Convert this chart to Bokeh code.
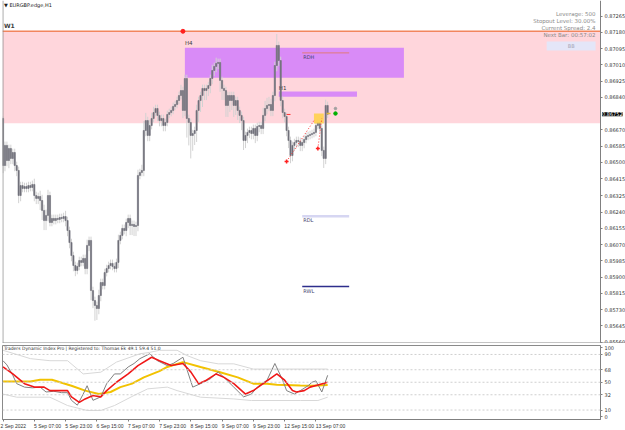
from bokeh.plotting import figure
from bokeh.layouts import column
from bokeh.models import (Range1d, FixedTicker, NumeralTickFormatter, BoxAnnotation,
                          Span, Label, ColumnDataSource, LinearAxis)
from bokeh.embed import file_html
from bokeh.resources import INLINE

# ---------------- data ----------------
open_first = 0.86730
closes = [
    0.86484, 0.86589, 0.86510, 0.86573, 0.86521, 0.86552, 0.86484, 0.86458, 0.86327, 0.86379,
    0.86364, 0.86374, 0.86364, 0.86379, 0.86369, 0.86385, 0.86327, 0.86312, 0.86322, 0.86301,
    0.86249, 0.86196, 0.86223, 0.86327, 0.86186, 0.86207, 0.86196, 0.86207, 0.86202, 0.86212,
    0.86207, 0.86217, 0.86196, 0.86144, 0.86081, 0.86013, 0.85961, 0.85935, 0.85956, 0.85987,
    0.85977, 0.85998, 0.85945, 0.86066, 0.86092, 0.85830, 0.85778, 0.85752, 0.85736, 0.85804,
    0.85872, 0.85856, 0.85924, 0.85945, 0.85961, 0.85972, 0.85956, 0.85945, 0.85977, 0.86092,
    0.86118, 0.86155, 0.86144, 0.86186, 0.86207, 0.86170, 0.86176, 0.86165, 0.86170, 0.86432,
    0.86447, 0.86458, 0.86667, 0.86719, 0.86641, 0.86693, 0.86730, 0.86761, 0.86782, 0.86746,
    0.86719, 0.86730, 0.86693, 0.86709, 0.86751, 0.86761, 0.86772, 0.86793, 0.86803, 0.86824,
    0.86850, 0.86876, 0.86772, 0.86939, 0.86730, 0.86709, 0.86641, 0.86651, 0.86667, 0.86772,
    0.86824, 0.86850, 0.86887, 0.86876, 0.86887, 0.86902, 0.86939, 0.86981, 0.87002, 0.87018,
    0.87023, 0.86929, 0.86887, 0.86876, 0.86798, 0.86850, 0.86824, 0.86850, 0.86798, 0.86824,
    0.86772, 0.86746, 0.86719, 0.86615, 0.86641, 0.86657, 0.86667, 0.86651, 0.86678, 0.86641,
    0.86688, 0.86693, 0.86678, 0.86746, 0.86782, 0.86798, 0.86803, 0.86772, 0.86850, 0.87007,
    0.87112, 0.87033, 0.86824, 0.86761, 0.86740, 0.86667, 0.86615, 0.86536, 0.86589, 0.86604,
    0.86615, 0.86610, 0.86589, 0.86604, 0.86620, 0.86636, 0.86641, 0.86646, 0.86651, 0.86657,
    0.86693, 0.86709, 0.86678, 0.86563, 0.86521, 0.86798, 0.86752,
]
hi_pips = [
    1, 2, 2, 2, 2, 2, 2, 2, 2, 2,
    2, 2, 2, 2, 2, 2, 3, 2, 2, 3,
    3, 3, 3, 3, 2, 2, 2, 2, 2, 2,
    2, 2, 3, 2, 2, 2, 2, 2, 2, 2,
    2, 2, 2, 3, 2, 2, 2, 2, 2, 3,
    2, 2, 2, 2, 2, 2, 2, 2, 2, 3,
    2, 2, 2, 2, 2, 2, 2, 2, 2, 3,
    2, 3, 5, 4, 2, 3, 3, 3, 2, 2,
    2, 2, 2, 2, 2, 2, 2, 2, 2, 2,
    2, 3, 2, 2, 2, 2, 2, 2, 2, 3,
    2, 2, 2, 2, 2, 2, 2, 3, 2, 3,
    2, 2, 2, 2, 2, 2, 2, 2, 2, 2,
    2, 2, 2, 2, 2, 2, 2, 2, 2, 2,
    2, 2, 2, 4, 4, 4, 4, 3, 2, 2,
    6, 2, 2, 2, 2, 2, 2, 2, 2, 2,
    2, 2, 2, 2, 2, 2, 2, 2, 2, 2,
    2, 2, 2, 2, 2, 3, 2,
]
lo_pips = [
    4, 3, 3, 4, 3, 3, 3, 3, 4, 3,
    2, 2, 2, 2, 2, 2, 3, 3, 3, 5,
    5, 5, 5, 3, 2, 2, 2, 2, 2, 2,
    2, 2, 3, 3, 3, 3, 3, 3, 2, 2,
    2, 2, 3, 3, 3, 5, 4, 8, 6, 3,
    3, 2, 2, 2, 2, 2, 2, 2, 2, 3,
    2, 2, 2, 3, 3, 5, 5, 5, 5, 3,
    2, 2, 3, 3, 3, 3, 2, 2, 2, 3,
    3, 3, 3, 3, 2, 2, 2, 2, 2, 2,
    2, 2, 4, 3, 10, 12, 12, 8, 6, 6,
    6, 6, 6, 5, 5, 4, 4, 3, 3, 3,
    3, 6, 6, 5, 6, 6, 6, 5, 6, 5,
    5, 4, 5, 5, 4, 4, 3, 3, 3, 4,
    3, 3, 3, 3, 3, 3, 3, 3, 3, 3,
    3, 3, 3, 3, 3, 3, 4, 4, 3, 3,
    3, 3, 3, 3, 3, 2, 2, 2, 2, 2,
    2, 2, 2, 3, 5, 3, 2,
]

price_ticks = [0.87265, 0.87180, 0.87095, 0.87010, 0.86925, 0.86840, 0.86670, 0.86585,
               0.86500, 0.86415, 0.86325, 0.86240, 0.86155, 0.86070, 0.85985, 0.85900,
               0.85815, 0.85730, 0.85645, 0.85560]
time_tick_bars = [0, 16, 32, 48, 64, 80, 96, 112, 128, 144, 160]
time_labels = ["2 Sep 2022", "5 Sep 07:00", "5 Sep 23:00", "6 Sep 15:00", "7 Sep 07:00",
               "7 Sep 23:00", "8 Sep 15:00", "9 Sep 07:00", "9 Sep 23:00", "12 Sep 15:00",
               "13 Sep 07:00"]
current_price = 0.86752

# zones / levels
w1_zone = [0.86705, 0.87186]          # bottom, top
w1_mark_bar = 92
h4_bars = [93, 205]
h4_zone = [0.86943, 0.87100]
h1_bars = [141, 181]
h1_zone = [0.86843, 0.86871]
level_bars = [153, 177]
rdh_level = 0.87073
rdl_level = 0.86219
rwl_level = 0.85851
trend1_bars = [145, 159]
trend1_prices = [0.86505, 0.86719]
trend2_bars = [161, 163]
trend2_prices = [0.86573, 0.86730]
signal_box_bars = [159, 164]
signal_box_prices = [0.86704, 0.86756]
red_dash_bars = [145, 147]
red_dash_price = 0.86751
yellow_dash_bars = [165.5, 167.5]
yellow_dash_price = 0.86756
green_dot = [170, 0.86756]
grey_dot = [170, 0.86782]

# TDI indicator
rsi_x = [0, 2, 5, 7, 11, 15, 19, 22, 26, 30, 33, 35, 38, 41, 43, 46, 50, 53, 57, 60,
         64, 67, 70, 75, 79, 84, 87, 92, 97, 101, 106, 110, 113, 118, 123, 127, 130, 135, 139, 143,
         145, 149, 152, 156, 158, 160, 163, 166]
rsi_v = [81, 75, 60, 48, 43, 42, 43, 36, 37, 35, 35, 24, 17, 33, 45, 24, 29, 48, 62, 62,
         72, 77, 84, 91, 81, 74, 77, 86, 43, 48, 55, 65, 57, 43, 29, 33, 43, 53, 77, 53,
         38, 33, 38, 45, 50, 52, 36, 60]
sig_x = [0, 5, 11, 16, 21, 24, 33, 35, 39, 42, 46, 50, 53, 58, 64, 69, 76, 80, 86, 92,
         96, 100, 104, 109, 113, 118, 124, 128, 133, 140, 144, 148, 150, 154, 157, 161, 166]
sig_v = [72, 62, 48, 43, 43, 38, 38, 29, 21, 26, 31, 29, 38, 50, 62, 74, 86, 81, 74, 77,
         65, 48, 53, 62, 57, 48, 33, 38, 48, 62, 53, 38, 36, 38, 43, 46, 50]
base_x = [0, 14, 19, 25, 35, 42, 49, 55, 60, 66, 72, 80, 84, 92, 101, 111, 120, 128, 135, 140,
          152, 158, 166]
base_v = [51, 51, 53.5, 53.5, 45, 38, 33, 36, 43, 48, 57, 66, 72, 79, 72, 64.5, 57, 48, 48, 46.5,
          45.3, 45, 46]
up_x = [0, 14, 24, 33, 41, 50, 58, 70, 75, 80, 89, 94, 101, 110, 118, 128, 152, 166]
up_v = [96, 84, 81, 81, 62, 64.5, 79, 91, 93, 96, 96, 88.5, 81, 76.5, 76.5, 69, 69, 69]
lo_x = [0, 7, 24, 33, 43, 50, 57, 67, 74, 84, 89, 101, 118, 127, 152, 161, 166]
lo_v = [33, 28.5, 28.5, 16.5, 9.4, 9.4, 16.5, 31, 40.5, 43, 38, 28.5, 26, 23.7, 23.7, 23.7, 28.5]
tdi_levels = [90, 68, 50, 32, 10]
tdi_ticks = [0, 10, 32, 50, 68, 90, 100]

# ---------------- derived ----------------
PIP = 0.0001
n = len(closes)
bars = list(range(n))
opens = [open_first] + closes[:-1]
tops = [max(o, c) for o, c in zip(opens, closes)]
bots = [min(o, c) for o, c in zip(opens, closes)]
highs = [t + h * PIP for t, h in zip(tops, hi_pips)]
lows = [b - l * PIP for b, l in zip(bots, lo_pips)]
src = ColumnDataSource(dict(x=bars, top=tops, bot=bots, high=highs, low=lows))

FONT = "DejaVu Sans"
AXFONT = "Liberation Sans"
X_START = -0.26
SCALE_X = 305.5          # bar position where the price scale sits
# main pane frame also covers the price-scale strip so its tag can be drawn there
X_MAIN = Range1d(X_START, 318.3)
X_TDI = Range1d(X_START, SCALE_X)
Y_MAIN = Range1d(0.85553, 0.87347)

_W = {" ": 1.0, ":": 1.0, "S": 2.4}
def left_pad(t):
    return "\u00a0" * round(sum(_W.get(c, 2.0) for c in t)) + t

# ---------------- main price pane ----------------
p1 = figure(frame_width=623, frame_height=343, x_range=X_MAIN, y_range=Y_MAIN,
            y_axis_location=None, x_axis_location=None,
            output_backend="svg", toolbar_location=None,
            min_border=0, min_border_left=2)
p1.grid.visible = False
p1.outline_line_color = None
p1.background_fill_color = "white"
p1.border_fill_color = "white"

ya = LinearAxis(ticker=FixedTicker(ticks=price_ticks),
                formatter=NumeralTickFormatter(format="0.00000"),
                fixed_location=SCALE_X)
ya.major_label_text_font = FONT
ya.major_label_text_font_size = "5px"
ya.major_label_text_color = "#333333"
ya.major_tick_out = 2
ya.major_tick_in = 0
ya.minor_tick_line_color = None
ya.axis_line_color = "#808080"
ya.major_tick_line_color = "#808080"
ya.major_label_standoff = 2
p1.add_layout(ya, "right")

# frame edges (left border and bottom separator)
p1.add_layout(Span(location=X_START + 0.2, dimension="height", line_color="#8a8a8a", line_width=1))
p1.add_layout(Span(location=Y_MAIN.start, dimension="width", line_color="#8a8a8a", line_width=2))

# zones
p1.add_layout(BoxAnnotation(left=X_START, right=SCALE_X, bottom=w1_zone[0], top=w1_zone[1],
                            fill_color="#FFD6DC", fill_alpha=1, line_color=None, level="underlay"))
p1.add_layout(BoxAnnotation(left=h4_bars[0], right=h4_bars[1], bottom=h4_zone[0], top=h4_zone[1],
                            fill_color="#D98BF7", fill_alpha=1, line_color=None, level="underlay"))
p1.add_layout(BoxAnnotation(left=h1_bars[0], right=h1_bars[1], bottom=h1_zone[0], top=h1_zone[1],
                            fill_color="#D98BF7", fill_alpha=1, line_color=None, level="underlay"))
p1.segment(x0=[X_START], x1=[SCALE_X], y0=[w1_zone[1]], y1=[w1_zone[1]],
           line_color="#F2865E", line_width=1.5)

# candles
p1.segment(x0="x", y0="low", x1="x", y1="high", source=src, line_color="#D2D2D2", line_width=1)
p1.vbar(x="x", bottom="bot", top="top", width=0.62, source=src, fill_color="#6F6F79",
        line_color="#6F6F79", line_width=0.6)

# levels
p1.segment(x0=[level_bars[0]] * 3, x1=[level_bars[1]] * 3,
           y0=[rdh_level, rdl_level, rwl_level], y1=[rdh_level, rdl_level, rwl_level],
           line_color=["#E07A7A", "#D6D6F2", "#2E2E8C"], line_width=[1, 2.5, 1.5])

# markers / signals
p1.scatter([w1_mark_bar], [w1_zone[1]], marker="circle", size=4, color="#FF2020")
p1.quad(left=[signal_box_bars[0]], right=[signal_box_bars[1]], bottom=[signal_box_prices[0]],
        top=[signal_box_prices[1]], fill_color="#FFD24D", fill_alpha=0.9, line_color=None)
p1.line(trend1_bars, trend1_prices, line_color="#FF3030", line_dash="1 2", line_width=1)
p1.line(trend2_bars, trend2_prices, line_color="#FF3030", line_dash="1 2", line_width=1)
p1.scatter([trend1_bars[0], trend2_bars[0]], [trend1_prices[0], trend2_prices[0]],
           marker="cross", size=4, color="#FF2020", line_width=1.5)
p1.line(red_dash_bars, [red_dash_price] * 2, line_color="#FF3030", line_width=1)
p1.line(yellow_dash_bars, [yellow_dash_price] * 2, line_color="#E0B83A", line_width=1.5)
p1.scatter([green_dot[0]], [green_dot[1]], size=3.5, color="#00B000")
p1.scatter([grey_dot[0]], [grey_dot[1]], size=2.5, color="#A0A0A0")

def lab(p, x, y, text, size="5.5px", color="#404040", align="left", baseline="middle", **kw):
    p.add_layout(Label(x=x, y=y, text=text, text_font=FONT, text_font_size=size,
                       text_color=color, text_align=align, text_baseline=baseline, **kw))

lab(p1, 0.5, 0.87321, "\u25bc EURGBP.edge,H1", size="5px", color="#202020")
lab(p1, 0.5, w1_zone[1], "W1", size="6px", color="#404040", baseline="bottom", y_offset=2,
    text_font_style="bold")
lab(p1, h4_bars[0], h4_zone[1], "H4", size="5.5px", color="#404040", baseline="bottom", y_offset=2)
lab(p1, h1_bars[0], h1_zone[1], "H1", size="5.5px", color="#404040", baseline="bottom", y_offset=1)
lab(p1, level_bars[0] + 0.5, rdh_level, "RDH", size="5px", color="#45456E", baseline="top", y_offset=-1)
lab(p1, level_bars[0] + 0.5, rdl_level, "RDL", size="5px", color="#45456E", baseline="top", y_offset=-1)
lab(p1, level_bars[0] + 0.5, rwl_level, "RWL", size="5px", color="#45456E", baseline="top", y_offset=-1)

info = ["Leverage: 500", "Stopout Level: 30.00%", "Current Spread: 2.4", "Next Bar: 00:57:02"]
info_y = [0.87274, 0.87239, 0.87204, 0.87169]
for t, yy in zip(info, info_y):
    lab(p1, 303, yy, t, size="5.5px", color="#8A8A8A", align="right")
p1.add_layout(BoxAnnotation(left=278, right=303, bottom=0.87086, top=0.87133,
                            fill_color="#E4E6F8", fill_alpha=1, line_color=None))
lab(p1, 290.5, 0.871095, "BB", size="5px", color="#A8A8B8", align="center")

# current-price tag on the price scale
p1.add_layout(Label(x=SCALE_X, y=current_price, text="0.86752", text_font=FONT,
                    text_font_size="5px", text_color="white", text_align="left",
                    text_baseline="middle", background_fill_color="black", x_offset=1.5))

# ---------------- indicator pane ----------------
p2 = figure(frame_width=598, frame_height=74, x_range=X_TDI,
            y_range=Range1d(-3.6, 102.9), y_axis_location="right",
            output_backend="svg", toolbar_location=None,
            min_border=0, min_border_left=2, min_border_top=2)
p2.grid.visible = False
p2.outline_line_color = "#8a8a8a"
ya2 = p2.yaxis[0]
ya2.ticker = FixedTicker(ticks=tdi_ticks)
ya2.major_label_text_font = FONT
ya2.major_label_text_font_size = "5px"
ya2.major_label_text_color = "#333333"
ya2.major_tick_out = 2
ya2.major_tick_in = 0
ya2.minor_tick_line_color = None
ya2.axis_line_color = "#808080"
ya2.major_tick_line_color = "#808080"
ya2.major_label_standoff = 2
xa = p2.xaxis[0]
xa.ticker = FixedTicker(ticks=time_tick_bars)
overrides = {b: left_pad(t) for b, t in zip(time_tick_bars, time_labels)}
overrides[time_tick_bars[0]] = time_labels[0]   # first label is pushed inside the canvas
xa.major_label_overrides = overrides
xa.major_label_text_font = AXFONT
xa.major_label_text_font_size = "5px"
xa.major_label_text_color = "#333333"
xa.major_tick_out = 2
xa.major_tick_in = 0
xa.minor_tick_line_color = None
xa.axis_line_color = "#808080"
xa.major_tick_line_color = "#808080"
xa.major_label_standoff = 1

for lv in tdi_levels:
    p2.add_layout(Span(location=lv, dimension="width", line_color="#CFCFCF",
                       line_dash="2 2", line_width=1))

p2.line(up_x, up_v, line_color="#D8D8D8", line_width=1)
p2.line(lo_x, lo_v, line_color="#D8D8D8", line_width=1)
p2.line(base_x, base_v, line_color="#F2C200", line_width=2)
p2.line(rsi_x, rsi_v, line_color="#808080", line_width=1)
p2.line(sig_x, sig_v, line_color="#F01818", line_width=1.6)

lab(p2, 0.5, 98.6, "Traders Dynamic Index Pro | Registered to: Thomas Ek 49.1 59.4 51.0",
    size="4.5px", color="#303030")

layout = column(p1, p2, spacing=0)
open("out.html", "w").write(file_html(layout, INLINE))
